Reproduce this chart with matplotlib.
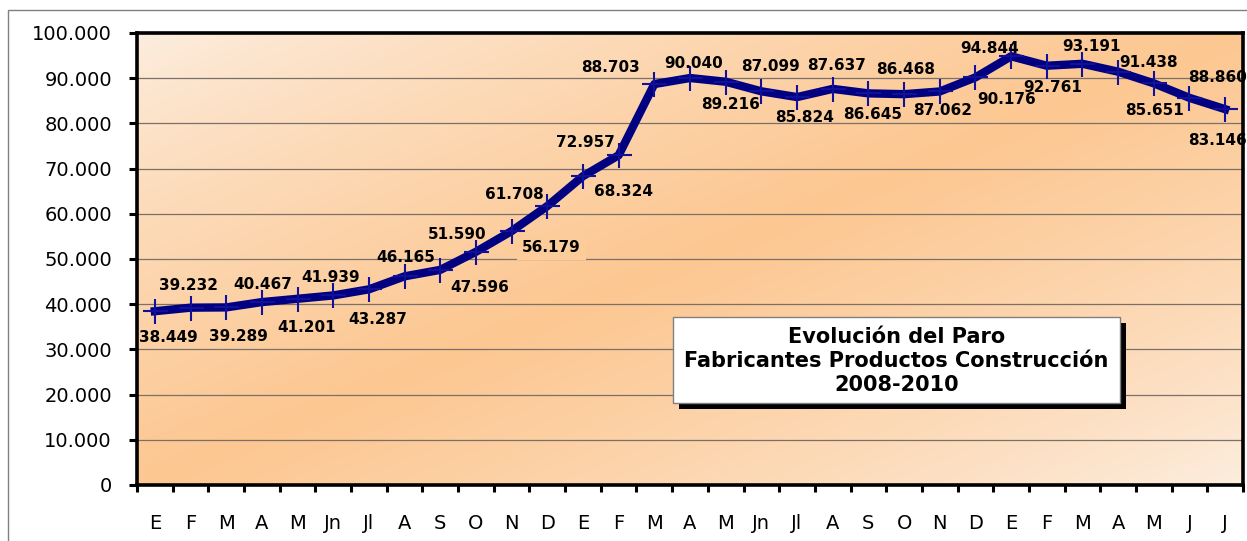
import numpy as np
import matplotlib
matplotlib.use("Agg")
import matplotlib.pyplot as plt
from matplotlib.ticker import FuncFormatter, FixedLocator
from matplotlib.patches import Rectangle

# ---- data ----
months = ["E", "F", "M", "A", "M", "Jn", "Jl", "A", "S", "O", "N", "D",
          "E", "F", "M", "A", "M", "Jn", "Jl", "A", "S", "O", "N", "D",
          "E", "F", "M", "A", "M", "J", "J"]
paro = [38449, 39232, 39289, 40467, 41201, 41939, 43287, 46165, 47596, 51590, 56179, 61708,
        68324, 72957, 88703, 90040, 89216, 87099, 85824, 87637, 86645, 86468, 87062, 90176,
        94844, 92761, 93191, 91438, 88860, 85651, 83146]
title_lines = ["Evolución del Paro", "Fabricantes Productos Construcción", "2008-2010"]

# label offsets in pixels (dx, dy downward)
label_offsets = [(14, 26), (-2, -22), (12, 29), (1, -18), (9, 29), (-3, -18), (9, 30),
                 (1, -19), (39, 18), (-19, -17), (40, 16), (-33, -12), (41, 15), (-33, -13),
                 (-44, -17), (4, -15), (5, 23), (9, -25), (8, 20), (4, -23), (4, 21),
                 (2, -25), (3, 19), (31, 22), (-21, -8), (6, 22), (9, -17), (30, -9),
                 (64, -6), (-35, 13), (-8, 31)]
boxed_labels = {10}

W, H = 1247, 541
fig = plt.figure(figsize=(W / 100, H / 100), dpi=100)

def fx(px):
    return px / W

def fy(py):
    return 1 - py / H

# outer chart frame
fig.patches.append(Rectangle((fx(8), fy(560)), fx(1300) - fx(8), fy(10) - fy(560),
                             transform=fig.transFigure, facecolor="none",
                             edgecolor="#808080", lw=1.0, zorder=0))

ax = fig.add_axes([fx(137), fy(485), fx(1243) - fx(137), fy(33) - fy(485)])

# gradient background
nx, ny = 400, 200
xs = np.linspace(0, 1, nx)
ys = np.linspace(1, 0, ny)  # top to bottom
XX, YY = np.meshgrid(xs, ys)
u = (XX + (1 - YY)) / 2.0
t = (1 - np.abs(2 * u - 1)) ** 0.8
light = np.array([253, 238, 224]) / 255.0
orange = np.array([252, 199, 145]) / 255.0
img = light[None, None, :] + (orange - light)[None, None, :] * t[:, :, None]
ax.imshow(img, extent=[0, 1, 0, 1], transform=ax.transAxes, aspect="auto", zorder=0)

x = np.arange(len(paro))
ax.plot(x, paro, color="#000080", lw=6, solid_joinstyle="round", zorder=3)
ax.plot(x, paro, ls="none", marker="+", markersize=18, markeredgewidth=1.5,
        color="#10109a", zorder=4)

for i, (v, (dx, dy)) in enumerate(zip(paro, label_offsets)):
    txt = f"{v:,}".replace(",", ".")
    kw = {}
    if i in boxed_labels:
        kw["bbox"] = dict(boxstyle="square,pad=0.35", facecolor="#fccc9b", edgecolor="none")
    ax.annotate(txt, (x[i], v), xytext=(dx, -dy), textcoords="offset pixels",
                ha="center", va="center", fontsize=11, fontweight="bold",
                color="black", zorder=5, annotation_clip=False, **kw)

ax.set_xlim(-0.5, len(paro) - 0.5)
ax.set_ylim(0, 100000)
ax.yaxis.set_major_locator(FixedLocator(np.arange(0, 100001, 10000)))
ax.yaxis.set_major_formatter(FuncFormatter(lambda v, p: f"{int(v):,}".replace(",", ".")))
ax.set_xticks(x)
ax.set_xticklabels(months)
ax.xaxis.set_minor_locator(FixedLocator(np.arange(-0.5, len(paro), 1.0)))

ax.grid(axis="y", color="#7a7068", lw=0.9)
ax.set_axisbelow(True)
for sp in ax.spines.values():
    sp.set_linewidth(2.6)
    sp.set_color("black")
    sp.set_zorder(6)

ax.tick_params(axis="y", which="major", direction="out", length=6, width=2.2,
               labelsize=14, pad=12, colors="black")
ax.tick_params(axis="x", which="major", length=0, labelsize=14, pad=21)
ax.tick_params(axis="x", which="minor", direction="out", length=5, width=2.2)

# title box with shadow
bx0, by0, bx1, by1 = 673, 317, 1120, 403
fig.patches.append(Rectangle((fx(bx0 + 6), fy(by1 + 6)), fx(bx1) - fx(bx0), fy(by0) - fy(by1),
                             transform=fig.transFigure, facecolor="black",
                             edgecolor="none", zorder=10))
fig.patches.append(Rectangle((fx(bx0), fy(by1)), fx(bx1) - fx(bx0), fy(by0) - fy(by1),
                             transform=fig.transFigure, facecolor="white",
                             edgecolor="#808080", lw=1, zorder=11))
for line, py in zip(title_lines, [337, 361, 385]):
    fig.text(fx((bx0 + bx1) / 2), fy(py), line, ha="center", va="center",
             fontsize=15, fontweight="bold", color="black", zorder=12)

fig.savefig("out.png", dpi=100)
